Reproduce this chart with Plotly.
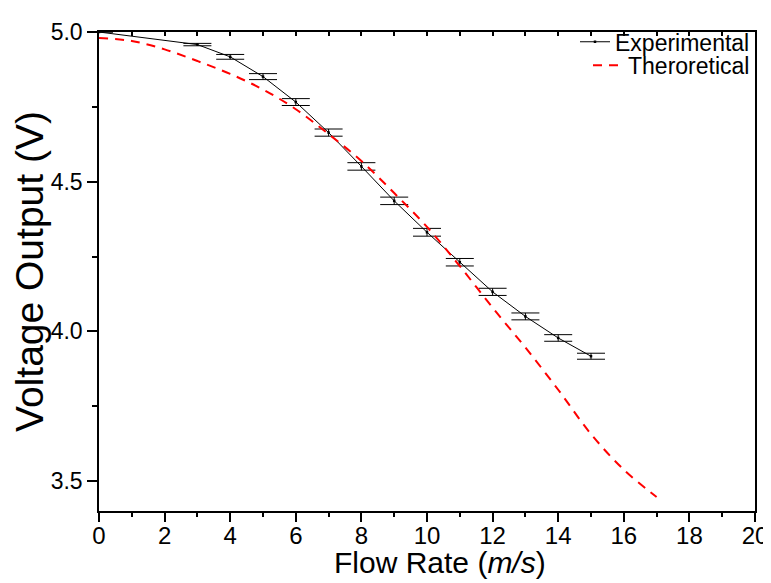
import plotly.graph_objects as go

# Experimental data (flow rate m/s, voltage V, error V)
exp_x = [0, 3, 4, 5, 6, 7, 8, 9, 10, 11, 12, 13, 14, 15]
exp_y = [5.000, 4.958, 4.917, 4.851, 4.766, 4.664, 4.551, 4.436, 4.331, 4.231, 4.132, 4.050, 3.978, 3.917]
exp_err = [None, 0.004, 0.008, 0.010, 0.0115, 0.012, 0.0125, 0.0125, 0.013, 0.0125, 0.012, 0.0115, 0.011, 0.010]

# Theoretical curve
theo_x = [0, 1, 2, 3, 4, 5, 6, 7, 8, 9, 10, 11, 12, 13, 14, 15, 16, 17]
theo_y = [4.980, 4.970, 4.942, 4.903, 4.860, 4.808, 4.742, 4.659, 4.569, 4.462, 4.349, 4.218,
          4.079, 3.946, 3.805, 3.657, 3.538, 3.447]

FONT = "Liberation Sans, Arial, sans-serif"

fig = go.Figure()
fig.add_trace(go.Scatter(
    x=exp_x, y=exp_y, mode="lines+markers", name="Experimental",
    line=dict(color="black", width=1),
    marker=dict(symbol="square", size=2.5, color="black"),
    error_y=dict(type="data", array=exp_err, visible=True, color="black", thickness=1, width=14),
    legend="legend",
))
fig.add_trace(go.Scatter(
    x=theo_x, y=theo_y, mode="lines", name="Theroretical",
    line=dict(color="red", width=2, dash="9px,7px", shape="spline"),
    legend="legend2",
))
# helper (empty) trace so the top/right frame axes are drawn
fig.add_trace(go.Scatter(x=[], y=[], xaxis="x2", yaxis="y2", showlegend=False, hoverinfo="skip"))

leg_common = dict(xanchor="right", yanchor="middle", bgcolor="rgba(0,0,0,0)",
                  font=dict(size=23, family=FONT), borderwidth=0)

# the page body has an 8px margin, so the figure is made smaller than the window
fig.update_layout(
    width=763, height=575,
    margin=dict(l=91, r=16, t=15, b=72),
    paper_bgcolor="white", plot_bgcolor="white",
    font=dict(family=FONT, color="black"),
    showlegend=True,
    legend=dict(x=1.0, y=1 - 10 / 488, **leg_common),
    legend2=dict(x=1.0, y=1 - 34 / 488, **leg_common),
    xaxis=dict(range=[0, 20], tick0=0, dtick=2, ticks="outside", ticklen=9, tickwidth=1.5,
               tickcolor="black", showline=True, linecolor="black", linewidth=1.5, ticklabelstandoff=-7,
               showgrid=False, zeroline=False, tickfont=dict(size=24, family=FONT), automargin=False,
               minor=dict(dtick=1, ticks="outside", ticklen=4, tickwidth=1.5, tickcolor="black", showgrid=False)),
    yaxis=dict(range=[3.4, 5.0], tick0=3.5, dtick=0.5, tickformat=".1f", ticks="outside", ticklen=10,
               tickwidth=1.5, tickcolor="black", showline=True, linecolor="black", linewidth=1.5,
               showgrid=False, zeroline=False, tickfont=dict(size=23, family=FONT), automargin=False,
               minor=dict(dtick=0.25, tick0=3.5, ticks="outside", ticklen=5, tickwidth=1.5, tickcolor="black", showgrid=False),
               title=dict(text="Voltage Output (V)", font=dict(size=39, family=FONT), standoff=3)),
    xaxis2=dict(overlaying="x", side="top", range=[0, 20], dtick=1, ticks="inside", ticklen=4,
                tickwidth=1.5, tickcolor="black", showticklabels=False, showline=True, automargin=False,
                linecolor="black", linewidth=1.5, showgrid=False, zeroline=False),
    yaxis2=dict(overlaying="y", side="right", range=[3.4, 5.0], ticks="", showticklabels=False,
                showline=True, linecolor="black", linewidth=1.5, showgrid=False, zeroline=False, automargin=False),
    annotations=[dict(text="Flow Rate (<i>m/s</i>)", xref="paper", yref="paper", x=0.52, y=0,
                      yshift=-51, xanchor="center", yanchor="middle", showarrow=False,
                      font=dict(size=30, family=FONT, color="black"))],
)

fig.write_html("out.html")
